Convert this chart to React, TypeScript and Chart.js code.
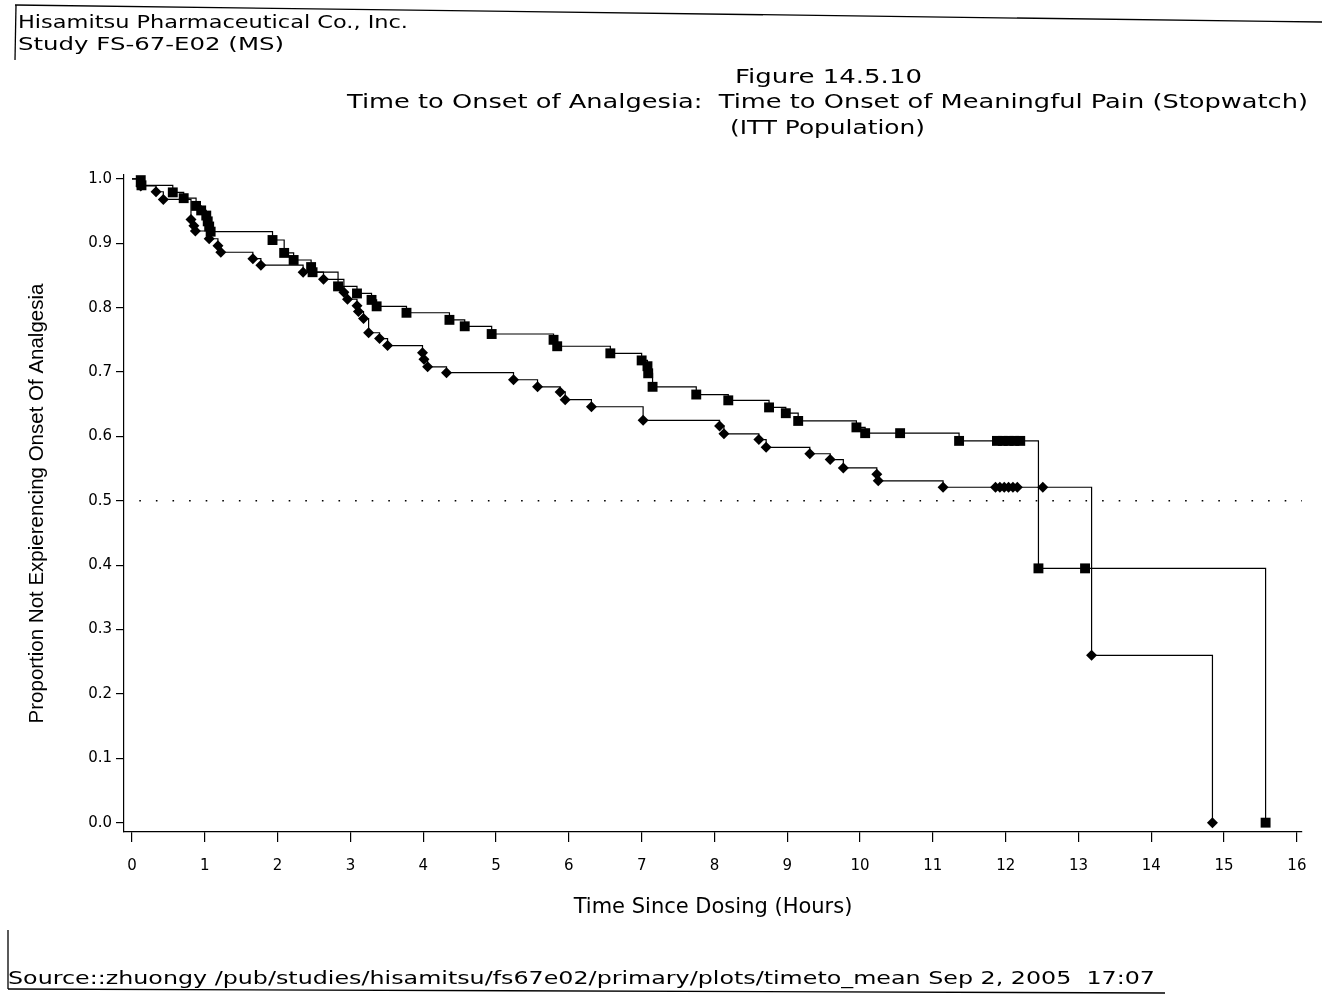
import React, { useEffect, useRef } from "react";
import { Chart, registerables } from "chart.js";

Chart.register(...registerables);

// Upper curve (square markers): time since dosing (hours) and proportion not experiencing onset
const squareTimes = [0, 0.12, 0.13, 0.56, 0.71, 0.88, 0.95, 1.02, 1.04, 1.06, 1.08, 1.93, 2.09, 2.22, 2.46, 2.48, 2.83, 3.09, 3.29, 3.36, 3.77, 4.36, 4.57, 4.94, 5.79, 5.84, 6.57, 7.0, 7.08, 7.09, 7.15, 7.75, 8.19, 8.75, 8.98, 9.15, 9.95, 10.07, 10.55, 11.36, 11.88, 11.96, 12.04, 12.12, 12.2, 12.45, 13.09, 15.57];
const squareSurv = [1, 0.998, 0.99, 0.979, 0.97, 0.958, 0.951, 0.943, 0.934, 0.926, 0.918, 0.905, 0.885, 0.874, 0.863, 0.855, 0.833, 0.822, 0.812, 0.802, 0.792, 0.781, 0.771, 0.759, 0.75, 0.74, 0.729, 0.718, 0.709, 0.698, 0.677, 0.665, 0.656, 0.645, 0.636, 0.624, 0.614, 0.605, 0.605, 0.593, 0.593, 0.593, 0.593, 0.593, 0.593, 0.395, 0.395, 0];

// Lower curve (diamond markers)
const diamondTimes = [0, 0.12, 0.33, 0.43, 0.81, 0.85, 0.87, 1.06, 1.18, 1.22, 1.66, 1.77, 2.35, 2.63, 2.91, 2.96, 3.09, 3.11, 3.18, 3.25, 3.4, 3.51, 3.99, 4.01, 4.06, 4.32, 5.24, 5.57, 5.88, 5.95, 6.31, 7.02, 8.07, 8.13, 8.61, 8.71, 9.31, 9.59, 9.77, 10.23, 10.25, 11.14, 11.86, 11.92, 11.98, 12.04, 12.1, 12.16, 12.51, 13.18, 14.84];
const diamondSurv = [1, 0.989, 0.98, 0.968, 0.937, 0.927, 0.919, 0.907, 0.896, 0.886, 0.876, 0.866, 0.855, 0.844, 0.824, 0.813, 0.803, 0.794, 0.783, 0.761, 0.752, 0.741, 0.73, 0.72, 0.708, 0.699, 0.688, 0.677, 0.669, 0.657, 0.646, 0.625, 0.616, 0.604, 0.595, 0.583, 0.573, 0.564, 0.551, 0.541, 0.531, 0.521, 0.521, 0.521, 0.521, 0.521, 0.521, 0.521, 0.521, 0.26, 0];

const referenceLevel = 0.5;
const xTickValues = [0, 1, 2, 3, 4, 5, 6, 7, 8, 9, 10, 11, 12, 13, 14, 15, 16];
const yTickValues = [0, 0.1, 0.2, 0.3, 0.4, 0.5, 0.6, 0.7, 0.8, 0.9, 1.0];

const headerLines = ["Hisamitsu Pharmaceutical Co., Inc.", "Study FS-67-E02 (MS)"];
const titleLines = [
  "Figure 14.5.10",
  "Time to Onset of Analgesia:  Time to Onset of Meaningful Pain (Stopwatch)",
  "(ITT Population)",
];
const sourceLine = "Source::zhuongy /pub/studies/hisamitsu/fs67e02/primary/plots/timeto_mean Sep 2, 2005  17:07";
const xTitle = "Time Since Dosing (Hours)";
const yTitle = "Proportion Not Expierencing Onset Of Analgesia";

const FONT = "'DejaVu Sans', sans-serif";

export default function App() {
  const canvasRef = useRef<HTMLCanvasElement | null>(null);

  useEffect(() => {
    const canvas = canvasRef.current;
    if (!canvas) return;
    const toPts = (xs: number[], ys: number[]) => xs.map((x, i) => ({ x, y: ys[i] }));
    const chart = new Chart(canvas, {
      type: "line",
      data: {
        datasets: [
          {
            label: "Square",
            data: toPts(squareTimes, squareSurv),
            stepped: "before",
            borderColor: "#000",
            borderWidth: 1.2,
            pointStyle: "rect",
            pointRadius: (ctx: any) => (ctx.dataIndex === 0 ? 0 : 7),
            pointBackgroundColor: "#000",
            pointBorderColor: "#000",
            pointBorderWidth: 0,
            fill: false,
            clip: false,
          } as any,
          {
            label: "Diamond",
            data: toPts(diamondTimes, diamondSurv),
            stepped: "before",
            borderColor: "#000",
            borderWidth: 1.2,
            pointStyle: "rectRot",
            pointRadius: (ctx: any) => (ctx.dataIndex === 0 ? 0 : 5.5),
            pointBackgroundColor: "#000",
            pointBorderColor: "#000",
            pointBorderWidth: 0,
            fill: false,
            clip: false,
          } as any,
          {
            label: "Median",
            data: [
              { x: 0.1, y: referenceLevel },
              { x: 16.07, y: referenceLevel },
            ],
            borderColor: "#000",
            borderWidth: 1.6,
            borderDash: [1.6, 15],
            pointRadius: 0,
            fill: false,
          } as any,
        ],
      },
      options: {
        responsive: false,
        animation: false,
        devicePixelRatio: 1,
        layout: { padding: { top: 175, right: 20, left: 0, bottom: 0 } },
        plugins: { legend: { display: false }, tooltip: { enabled: false } },
        scales: {
          x: {
            type: "linear",
            min: -0.11,
            max: 16.07,
            afterFit: (s: any) => {
              s.height = 170;
            },
            afterBuildTicks: (s: any) => {
              s.ticks = xTickValues.map((v) => ({ value: v }));
            },
            grid: { display: true, drawOnChartArea: false, drawTicks: true, tickLength: 10, color: "#000", lineWidth: 1.2 },
            border: { display: true, color: "#000", width: 1.2 },
            ticks: {
              color: "#000",
              font: { family: FONT, size: 15 },
              padding: 15,
              maxRotation: 0,
              autoSkip: false,
              callback: (v: any) => String(v),
            },
            title: {
              display: true,
              text: xTitle,
              color: "#000",
              font: { family: FONT, size: 21 },
              padding: { top: 0, bottom: 82 },
            },
          },
          y: {
            type: "linear",
            min: -0.0145,
            max: 1.006,
            afterFit: (s: any) => {
              s.width = 124;
            },
            afterBuildTicks: (s: any) => {
              s.ticks = yTickValues.map((v) => ({ value: v }));
            },
            grid: { display: true, drawOnChartArea: false, drawTicks: true, tickLength: 8, color: "#000", lineWidth: 1.2 },
            border: { display: true, color: "#000", width: 1.2 },
            ticks: {
              color: "#000",
              font: { family: FONT, size: 15 },
              padding: 4,
              autoSkip: false,
              callback: (v: any) => Number(v).toFixed(1),
            },
            title: {
              display: true,
              text: yTitle,
              color: "#000",
              font: { family: "'Liberation Sans', sans-serif", size: 20.5 },
              padding: { top: 25, bottom: 0 },
            },
          },
        },
      } as any,
    });
    return () => chart.destroy();
  }, []);

  return (
    <div style={{ position: "absolute", left: 0, top: 0, width: 1322, height: 1002, background: "#fff", overflow: "hidden" }}>
      <canvas ref={canvasRef} width={1322} height={1002} style={{ position: "absolute", left: 0, top: 0, width: 1322, height: 1002 }} />
      <svg width={1322} height={1002} style={{ position: "absolute", left: 0, top: 0, pointerEvents: "none" }}>
        <g stroke="#000" strokeWidth={1.3} fill="none">
          <line x1={15} y1={5} x2={1322} y2={22} />
          <line x1={16} y1={5} x2={15} y2={60} />
          <line x1={8} y1={930} x2={8} y2={989} />
          <line x1={8} y1={989} x2={1165} y2={993} />
        </g>
        <g fill="#000" style={{ fontFamily: FONT }}>
          <text xmlSpace="preserve" x={18} y={28} fontSize={17} textLength={390} lengthAdjust="spacingAndGlyphs">{headerLines[0]}</text>
          <text xmlSpace="preserve" x={18} y={50} fontSize={17} textLength={266} lengthAdjust="spacingAndGlyphs">{headerLines[1]}</text>
          <text xmlSpace="preserve" x={735} y={83} fontSize={20} textLength={187} lengthAdjust="spacingAndGlyphs">{titleLines[0]}</text>
          <text xmlSpace="preserve" x={347} y={108} fontSize={20} textLength={961} lengthAdjust="spacingAndGlyphs">{titleLines[1]}</text>
          <text xmlSpace="preserve" x={730} y={134} fontSize={20} textLength={195} lengthAdjust="spacingAndGlyphs">{titleLines[2]}</text>
          <text xmlSpace="preserve" x={8} y={984} fontSize={17} textLength={1147} lengthAdjust="spacingAndGlyphs">{sourceLine}</text>
        </g>
      </svg>
    </div>
  );
}
